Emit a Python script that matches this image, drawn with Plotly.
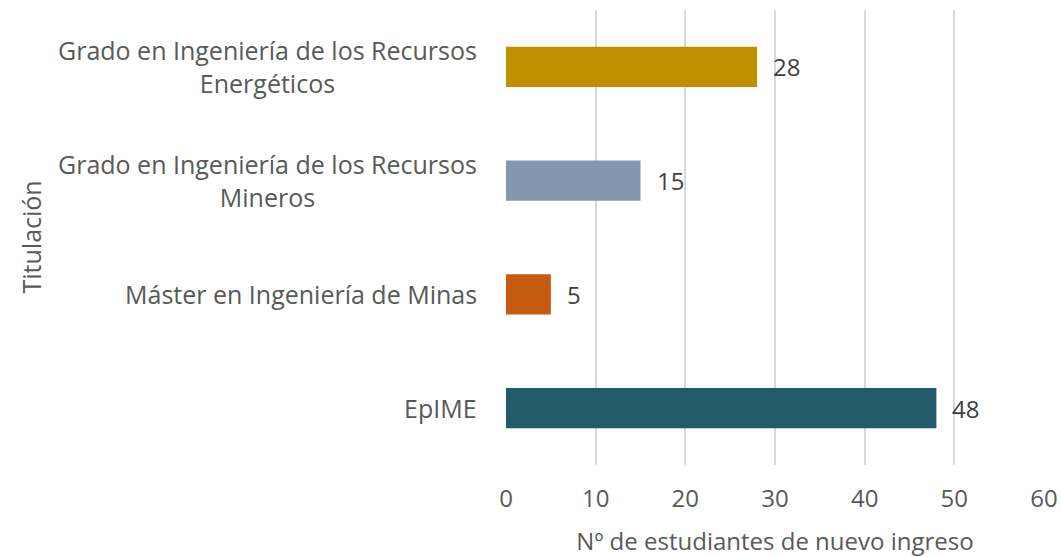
import plotly.graph_objects as go

categories = ["Grado en Ingeniería de los Recursos<br>Energéticos",
              "Grado en Ingeniería de los Recursos<br>Mineros",
              "Máster en Ingeniería de Minas",
              "EpIME"]
values = [28, 15, 5, 48]
colors = ["#BF8F00", "#8497B0", "#C55A11", "#215A69"]
x_ticks = [0, 10, 20, 30, 40, 50, 60]

FONT = "Open Sans"
FS = 24
FSC = 25
# plot area in the picture: x 506..1044, y 10..465
L, T = 506, 10
R = 1061 - 1044
B = 557 - 465
PW = 1044 - 506

fig = go.Figure()
fig.add_trace(go.Bar(
    x=values, y=categories, orientation="h",
    marker=dict(color=colors, line=dict(width=0)),
    width=0.352, hoverinfo="skip",
))

for c, v in zip(categories, values):
    fig.add_annotation(x=v, y=c, xref="x", yref="y", text=str(v),
                       showarrow=False, xanchor="left", xshift=14,
                       font=dict(family=FONT, size=FS, color="#404040"))
    fig.add_annotation(x=0, y=c, xref="paper", yref="y", text=c,
                       showarrow=False, xanchor="right", align="center",
                       xshift=-27, font=dict(family=FONT, size=FSC, color="#595959"))

fig.add_annotation(x=-(506 - 30) / PW, y=0.5, xref="paper", yref="paper",
                   text="Titulación", textangle=-90, showarrow=False,
                   xanchor="center", yanchor="middle",
                   font=dict(family=FONT, size=FSC, color="#595959"))

fig.update_layout(
    width=1061, height=557,
    margin=dict(l=L, r=R, t=T, b=B, autoexpand=False),
    paper_bgcolor="white", plot_bgcolor="white",
    showlegend=False,
    font=dict(family=FONT, color="#595959", size=FS),
    xaxis=dict(range=[0, 60], tickvals=x_ticks, showgrid=True,
               gridcolor="#D9D9D9", gridwidth=2, zeroline=False,
               showline=False, ticks="", ticklabelstandoff=17,
               automargin=False,
               tickfont=dict(family=FONT, size=FS, color="#595959"),
               title=dict(text="Nº de estudiantes de nuevo ingreso",
                          standoff=20,
                          font=dict(family=FONT, size=FS, color="#595959"))),
    yaxis=dict(autorange="reversed", showticklabels=False, showgrid=False,
               zeroline=False, showline=False, ticks="", automargin=False),
)

fig.write_html("out.html",
               config={"displayModeBar": False, "staticPlot": True},
               post_script="document.body.style.margin='0';document.body.style.overflow='hidden';")
